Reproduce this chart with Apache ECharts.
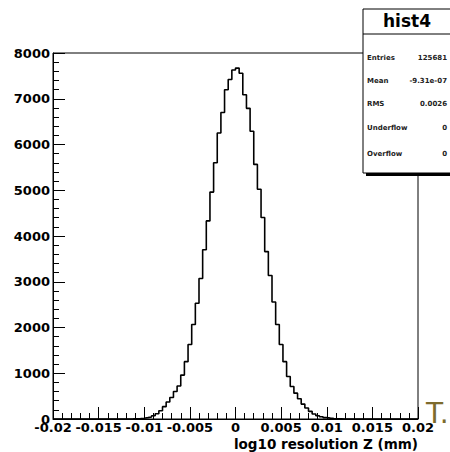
<!DOCTYPE html>
<html><head><meta charset="utf-8">
<script src="https://cdn.jsdelivr.net/npm/echarts@6.0.0/dist/echarts.min.js"></script>
<style>html,body{margin:0;padding:0;background:#fff}#c{width:450px;height:452px}</style>
</head><body><div id="c"></div>
<script>
// Histogram definition
const X_MIN = -0.02, X_MAX = 0.02, N_BINS = 100;
// Bin contents (bins 0..99)
const counts = [
  0,0,0,0,0,0,0,0,0,0,
  0,0,0,0,0,0,0,0,0,0,
  0,2,5,10,18,30,45,70,115,180,
  270,370,470,600,720,960,1254,1630,2065,2530,
  3070,3700,4330,4960,5600,6250,6700,7196,7420,7630,
  7670,7559,7087,6790,6290,5565,5022,4406,3659,3137,
  2558,2065,1630,1254,928,710,565,442,326,239,
  167,109,72,50,30,20,12,6,3,0,
  0,0,0,0,0,0,0,0,0,0,
  0,0,0,0,0,0,0,0,0,0
];
const histName = 'hist4';
const statsLabels = ['Entries', 'Mean', 'RMS', 'Underflow', 'Overflow'];
const statsValues = ['125681', '-9.31e-07', '0.0026', '0', '0'];
const xTitle = 'log10 resolution Z (mm)';
const artifactText = 'T.';

const binW = (X_MAX - X_MIN) / N_BINS;
const stepData = counts.map((c, i) => [X_MIN + i * binW, c]);
stepData.push([X_MAX, 0]);

const FONT = 'DejaVu Sans';
const chart = echarts.init(document.getElementById('c'), null, {renderer: 'svg'});

const statRows = [];
const rowY = [58, 81, 104, 128, 154];
statsLabels.forEach((l, i) => {
  statRows.push({type: 'text', left: 367, top: rowY[i] - 4,
    style: {text: l, font: 'bold 7px "DejaVu Sans"', fill: '#222'}});
  statRows.push({type: 'text', right: 3, top: rowY[i] - 4,
    style: {text: statsValues[i], font: 'bold 7px "DejaVu Sans"', fill: '#222', align: 'right'}});
});

chart.setOption({
  animation: false,
  backgroundColor: '#fff',
  grid: {left: 53, right: 32, top: 53, bottom: 33, show: true, borderColor: '#000', borderWidth: 1, backgroundColor: 'transparent'},
  xAxis: {
    type: 'value', min: X_MIN, max: X_MAX, interval: 0.005,
    axisLine: {show: true, onZero: false, lineStyle: {color: '#000', width: 1}},
    axisTick: {show: true, inside: true, length: 12, lineStyle: {color: '#000'}},
    minorTick: {show: true, splitNumber: 5, length: 6, lineStyle: {color: '#000'}},
    splitLine: {show: false},
    axisLabel: {fontFamily: FONT, fontWeight: 'bold', fontSize: 13, color: '#000', margin: 2,
      formatter: v => String(parseFloat(v.toFixed(4)))}
  },
  yAxis: {
    type: 'value', min: 0, max: 8000, interval: 1000,
    axisLine: {show: true, onZero: false, lineStyle: {color: '#000', width: 1}},
    axisTick: {show: true, inside: true, length: 12, lineStyle: {color: '#000'}},
    minorTick: {show: true, splitNumber: 5, length: 6, lineStyle: {color: '#000'}},
    splitLine: {show: false},
    axisLabel: {fontFamily: FONT, fontWeight: 'bold', fontSize: 13, color: '#000', margin: 3,
      formatter: v => String(v)}
  },
  series: [{
    type: 'line', step: 'end', data: stepData, symbol: 'none',
    lineStyle: {color: '#000', width: 1.6}
  }],
  graphic: [
    {type: 'text', right: 32, top: 437,
      style: {text: xTitle, font: 'bold 13.5px "DejaVu Sans"', fill: '#000', align: 'right'}},
    {type: 'text', left: 426, top: 399,
      style: {text: artifactText, font: '28px "DejaVu Sans"', fill: '#7d6b2d'}},
    {type: 'rect', shape: {x: 366, y: 12, width: 90, height: 164}, style: {fill: '#000'}},
    {type: 'rect', shape: {x: 363, y: 9, width: 90, height: 164}, style: {fill: '#fff', stroke: '#000', lineWidth: 1}},
    {type: 'line', shape: {x1: 363, y1: 34, x2: 453, y2: 34}, style: {stroke: '#000', lineWidth: 1}},
    {type: 'text', left: 383, top: 12,
      style: {text: histName, font: 'bold 17px "DejaVu Sans"', fill: '#000'}},
    ...statRows
  ]
});
</script>
</body></html>
